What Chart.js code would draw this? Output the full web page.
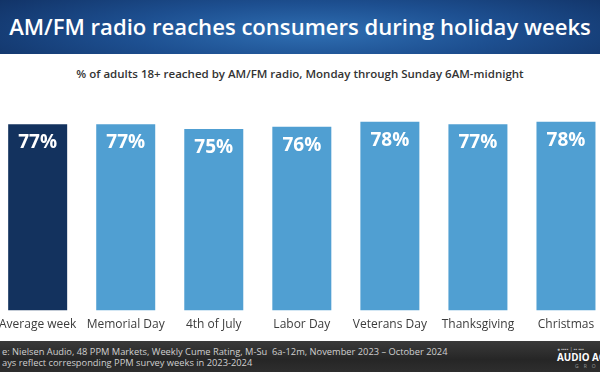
<!DOCTYPE html>
<html>
<head>
<meta charset="utf-8">
<script src="https://cdn.jsdelivr.net/npm/chart.js@4.4.1/dist/chart.umd.min.js"></script>
<style>
  html, body { margin: 0; padding: 0; width: 600px; height: 372px; overflow: hidden; background: #fff; }
  body { position: relative; font-family: 'Open Sans', sans-serif; }
  #title {
    position: absolute; left: 0; top: 0; width: 600px; height: 54px;
    background: radial-gradient(ellipse 70% 120% at 52% 60%, #2f6fb3 0%, #1d4f90 45%, #0f2d5e 100%);
    color: #fff; font-size: 22.1px; font-weight: 600; line-height: 52px;
    text-align: center; white-space: nowrap;
  }
  #subtitle {
    position: absolute; left: 0; top: 66px; width: 600px; text-align: center;
    font-size: 11.5px; font-weight: 600; color: #333; white-space: nowrap;
  }
  #wrap { position: absolute; left: -8px; top: 100px; width: 618px; height: 239px; }
  #footer {
    position: absolute; left: 0; top: 341px; width: 600px; height: 31px;
    background: linear-gradient(180deg, #3a3a3a 0%, #262626 60%, #2e2e2e 100%);
    color: #cfcfcf; font-size: 9.3px; line-height: 10.5px;
  }
  #footer .src { position: absolute; left: 2px; top: 6px; white-space: nowrap; }
  #logo { position: absolute; left: 557px; top: 5px; color: #fff; white-space: nowrap; }
  #logo .tiny { font-size: 5px; color: #bbb; line-height: 6px; }
  #logo .big { font-size: 9.8px; font-weight: 700; line-height: 11px; }
  #logo .grp { font-size: 5px; color: #999; letter-spacing: 5px; line-height: 6px; padding-left: 18px; }
</style>
</head>
<body>
<div id="title">AM/FM radio reaches consumers during holiday weeks</div>
<div id="subtitle">% of adults 18+ reached by AM/FM radio, Monday through Sunday 6AM-midnight</div>
<div id="wrap"><canvas id="chart"></canvas></div>
<div id="footer">
  <div class="src">e: Nielsen Audio, 48 PPM Markets, Weekly Cume Rating, M-Su&nbsp; 6a-12m, November 2023 – October 2024<br>ays reflect corresponding PPM survey weeks in 2023-2024</div>
  <div id="logo"><div class="tiny">&#9679; ▪▪▪▪ | ▪▪ ▪▪▪</div><div class="big">AUDIO AC</div><div class="grp">GRO</div></div>
</div>
<script>
// semanas festivas vs semana promedio
const weeks = ['Average week', 'Memorial Day', '4th of July', 'Labor Day', 'Veterans Day', 'Thanksgiving', 'Christmas'];
const reach = [77, 77, 75, 76, 78, 77, 78];
const barColors = ['#13325e', '#509fd2', '#509fd2', '#509fd2', '#509fd2', '#509fd2', '#509fd2'];

// etiquetas blancas dentro de cada barra
const insideLabels = {
  id: 'insideLabels',
  afterDatasetsDraw(chart) {
    const ctx = chart.ctx;
    const meta = chart.getDatasetMeta(0);
    ctx.save();
    ctx.fillStyle = '#ffffff';
    ctx.font = 'bold 19px "Open Sans", sans-serif';
    ctx.textAlign = 'center';
    ctx.textBaseline = 'top';
    meta.data.forEach((bar, i) => {
      ctx.fillText(reach[i] + '%', bar.x, bar.y + 9);
    });
    ctx.restore();
  }
};

new Chart(document.getElementById('chart'), {
  type: 'bar',
  data: {
    labels: weeks,
    datasets: [{
      data: reach,
      backgroundColor: barColors,
      borderWidth: 0,
      categoryPercentage: 1,
      barPercentage: 0.67
    }]
  },
  options: {
    responsive: true,
    maintainAspectRatio: false,
    animation: false,
    layout: { padding: { top: 17, left: 0, right: 0, bottom: 0 } },
    plugins: { legend: { display: false }, tooltip: { enabled: false } },
    scales: {
      x: {
        grid: { display: false, drawTicks: false },
        border: { display: false },
        ticks: { color: '#3c3c3c', font: { size: 12, family: 'Open Sans' }, padding: 7, maxRotation: 0, autoSkip: false }
      },
      y: { display: false, min: 0, max: 80 }
    }
  },
  plugins: [insideLabels]
});
</script>
</body>
</html>
